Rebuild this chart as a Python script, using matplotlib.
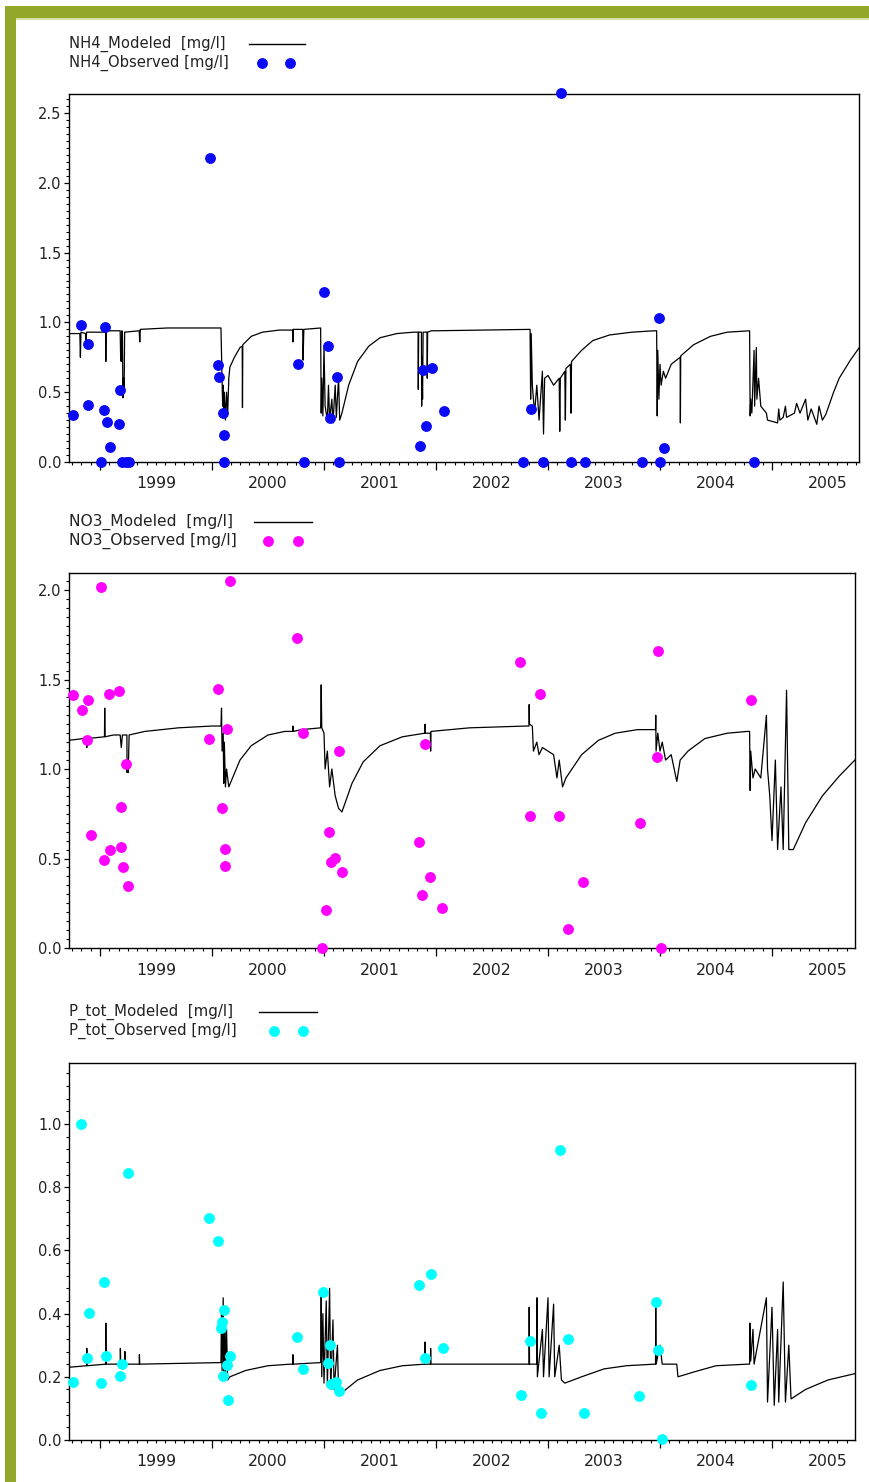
import numpy as np
import matplotlib.pyplot as plt
from matplotlib.lines import Line2D
from matplotlib.patches import Rectangle
from matplotlib.ticker import MultipleLocator, FixedLocator, FormatStrFormatter, NullFormatter

W, H = 870, 1482

# ---- data (decimal years, mg/l) ----
years = [1999, 2000, 2001, 2002, 2003, 2004, 2005]

nh4_obs_t = [1998.759, 1998.830, 1998.893, 1998.893, 1999.009, 1999.036, 1999.045, 1999.063, 1999.089,
             1999.170, 1999.179, 1999.196, 1999.232, 1999.259, 1999.982, 2000.054, 2000.063, 2000.098,
             2000.107, 2000.107, 2000.768, 2000.821, 2001.000, 2001.036, 2001.054, 2001.116, 2001.134,
             2001.857, 2001.884, 2001.911, 2001.964, 2002.071, 2002.777, 2002.848, 2002.955, 2003.116,
             2003.205, 2003.330, 2003.839, 2003.991, 2004.000, 2004.036, 2004.839]
nh4_obs_v = [0.337, 0.981, 0.845, 0.408, 0.0, 0.372, 0.967, 0.287, 0.107,
             0.272, 0.516, 0.0, 0.0, 0.0, 2.178, 0.695, 0.609, 0.351,
             0.193, 0.0, 0.702, 0.0, 1.218, 0.831, 0.315, 0.609, 0.0,
             0.115, 0.659, 0.258, 0.673, 0.365, 0.0, 0.380, 0.0, 2.643,
             0.0, 0.0, 0.0, 1.032, 0.0, 0.100, 0.0]

nh4_mod_t = [1998.72, 1998.82, 1998.825, 1998.83, 1998.87, 1998.875, 1998.88, 1999.05, 1999.052, 1999.055,
             1999.18, 1999.185, 1999.19, 1999.195, 1999.20, 1999.205, 1999.21, 1999.215, 1999.22, 1999.35,
             1999.355, 1999.36, 1999.6, 2000.0, 2000.08, 2000.09, 2000.095, 2000.10, 2000.105, 2000.11,
             2000.12, 2000.13, 2000.14, 2000.15, 2000.16, 2000.20, 2000.25, 2000.27, 2000.272, 2000.275,
             2000.35, 2000.45, 2000.6, 2000.72, 2000.722, 2000.725, 2000.80, 2000.81, 2000.813, 2000.82,
             2000.97, 2000.975, 2000.98, 2000.99, 2001.0, 2001.01, 2001.03, 2001.04, 2001.05, 2001.07,
             2001.08, 2001.10, 2001.11, 2001.13, 2001.14, 2001.16, 2001.22, 2001.30, 2001.40, 2001.50,
             2001.65, 2001.80, 2001.84, 2001.842, 2001.845, 2001.87, 2001.872, 2001.875, 2001.88, 2001.885,
             2001.92, 2001.922, 2001.925, 2001.96, 2002.0, 2002.80, 2002.84, 2002.845, 2002.85, 2002.86,
             2002.88, 2002.90, 2002.92, 2002.95, 2002.96, 2002.97, 2003.0, 2003.05, 2003.10, 2003.105,
             2003.11, 2003.15, 2003.155, 2003.16, 2003.20, 2003.205, 2003.21, 2003.30, 2003.40, 2003.55,
             2003.75, 2003.95, 2003.97, 2003.975, 2003.98, 2003.99, 2004.0, 2004.01, 2004.03, 2004.05,
             2004.10, 2004.18, 2004.182, 2004.185, 2004.30, 2004.45, 2004.60, 2004.80, 2004.805, 2004.81,
             2004.82, 2004.84, 2004.845, 2004.86, 2004.865, 2004.88, 2004.90, 2004.95, 2004.96, 2005.05,
             2005.06, 2005.07, 2005.10, 2005.12, 2005.13, 2005.20, 2005.22, 2005.25, 2005.30, 2005.32,
             2005.35, 2005.40, 2005.42, 2005.45, 2005.48, 2005.55, 2005.60, 2005.70, 2005.78]
nh4_mod_v = [0.92, 0.92, 0.75, 0.93, 0.92, 0.85, 0.93, 0.93, 0.72, 0.94,
             0.94, 0.73, 0.72, 0.94, 0.93, 0.46, 0.60, 0.50, 0.93, 0.94,
             0.86, 0.95, 0.96, 0.96, 0.96, 0.60, 0.40, 0.55, 0.32, 0.50,
             0.30, 0.50, 0.35, 0.60, 0.68, 0.75, 0.82, 0.83, 0.39, 0.84,
             0.90, 0.93, 0.945, 0.945, 0.86, 0.95, 0.95, 0.95, 0.73, 0.95,
             0.96, 0.35, 0.60, 0.33, 0.83, 0.40, 0.30, 0.55, 0.30, 0.45,
             0.28, 0.55, 0.32, 0.60, 0.30, 0.35, 0.55, 0.72, 0.83, 0.89,
             0.92, 0.93, 0.93, 0.52, 0.93, 0.93, 0.40, 0.75, 0.45, 0.93,
             0.93, 0.60, 0.93, 0.94, 0.94, 0.95, 0.95, 0.45, 0.92, 0.55,
             0.35, 0.55, 0.30, 0.65, 0.20, 0.60, 0.62, 0.55, 0.60, 0.22,
             0.60, 0.65, 0.30, 0.67, 0.70, 0.35, 0.72, 0.80, 0.87, 0.91,
             0.93, 0.94, 0.94, 0.33, 0.80, 0.45, 0.70, 0.55, 0.65, 0.60,
             0.70, 0.75, 0.28, 0.76, 0.84, 0.90, 0.93, 0.94, 0.33, 0.45,
             0.35, 0.80, 0.40, 0.82, 0.45, 0.60, 0.40, 0.35, 0.30, 0.28,
             0.38, 0.30, 0.32, 0.40, 0.32, 0.35, 0.42, 0.35, 0.45, 0.30,
             0.38, 0.27, 0.40, 0.30, 0.34, 0.50, 0.60, 0.73, 0.82]

no3_obs_t = [1998.759, 1998.839, 1998.884, 1998.893, 1998.920, 1999.009, 1999.036, 1999.080, 1999.089,
             1999.170, 1999.188, 1999.188, 1999.205, 1999.232, 1999.250, 1999.973, 2000.054, 2000.089,
             2000.116, 2000.116, 2000.134, 2000.161, 2000.759, 2000.813, 2000.982, 2001.018, 2001.045,
             2001.063, 2001.098, 2001.134, 2001.161, 2001.848, 2001.875, 2001.902, 2001.946, 2002.054,
             2002.750, 2002.839, 2002.929, 2003.098, 2003.179, 2003.313, 2003.821, 2003.973, 2003.982,
             2004.009, 2004.813]
no3_obs_v = [1.413, 1.330, 1.162, 1.385, 0.631, 2.017, 0.492, 1.419, 0.547,
             1.436, 0.788, 0.564, 0.453, 1.028, 0.346, 1.168, 1.447, 0.782,
             0.553, 0.458, 1.223, 2.050, 1.732, 1.201, 0.0, 0.212, 0.648,
             0.480, 0.503, 1.101, 0.425, 0.592, 0.296, 1.140, 0.397, 0.223,
             1.598, 0.737, 1.419, 0.737, 0.106, 0.369, 0.698, 1.067, 1.659,
             0.0, 1.385]

no3_mod_t = [1998.72, 1998.85, 1998.88, 1998.882, 1998.885, 1999.04, 1999.042, 1999.045, 1999.12, 1999.18,
             1999.19, 1999.20, 1999.24, 1999.242, 1999.25, 1999.252, 1999.26, 1999.40, 1999.70, 2000.0,
             2000.08, 2000.085, 2000.09, 2000.10, 2000.105, 2000.11, 2000.12, 2000.13, 2000.15, 2000.25,
             2000.35, 2000.50, 2000.65, 2000.72, 2000.722, 2000.725, 2000.80, 2000.97, 2000.975, 2000.98,
             2001.0, 2001.01, 2001.03, 2001.05, 2001.07, 2001.10, 2001.13, 2001.16, 2001.25, 2001.35,
             2001.50, 2001.70, 2001.90, 2001.902, 2001.905, 2001.95, 2001.952, 2001.955, 2002.30, 2002.80,
             2002.83, 2002.832, 2002.835, 2002.86, 2002.87, 2002.90, 2002.92, 2002.95, 2003.0, 2003.05,
             2003.08, 2003.10, 2003.13, 2003.16, 2003.30, 2003.45, 2003.60, 2003.80, 2003.96, 2003.962,
             2003.965, 2003.98, 2004.0, 2004.02, 2004.05, 2004.10, 2004.15, 2004.18, 2004.25, 2004.40,
             2004.60, 2004.78, 2004.80, 2004.805, 2004.81, 2004.83, 2004.85, 2004.90, 2004.95, 2004.96,
             2004.98, 2005.0, 2005.03, 2005.05, 2005.08, 2005.10, 2005.13, 2005.15, 2005.19, 2005.30,
             2005.45, 2005.60, 2005.74]
no3_mod_v = [1.16, 1.17, 1.17, 1.12, 1.17, 1.18, 1.34, 1.18, 1.19, 1.19,
             1.12, 1.19, 1.19, 0.98, 1.05, 0.98, 1.19, 1.21, 1.23, 1.24,
             1.24, 1.34, 1.10, 1.20, 0.92, 1.15, 0.90, 1.00, 0.90, 1.05,
             1.13, 1.19, 1.21, 1.21, 1.24, 1.21, 1.22, 1.23, 1.47, 1.23,
             1.20, 1.00, 1.10, 0.90, 1.00, 0.85, 0.78, 0.76, 0.92, 1.04,
             1.13, 1.18, 1.20, 1.25, 1.20, 1.20, 1.10, 1.21, 1.23, 1.24,
             1.24, 1.36, 1.25, 1.24, 1.10, 1.15, 1.08, 1.12, 1.10, 1.08,
             0.95, 1.05, 0.90, 0.95, 1.08, 1.16, 1.20, 1.22, 1.22, 1.30,
             1.10, 1.20, 1.10, 1.15, 1.05, 1.08, 0.93, 1.05, 1.10, 1.17,
             1.20, 1.21, 1.21, 0.88, 1.10, 0.95, 1.00, 0.95, 1.30, 1.00,
             0.85, 0.60, 1.05, 0.55, 0.90, 0.55, 1.44, 0.55, 0.55, 0.70,
             0.85, 0.96, 1.05]

ptot_obs_t = [1998.759, 1998.830, 1998.884, 1998.902, 1999.009, 1999.036, 1999.054, 1999.179, 1999.196,
              1999.250, 1999.973, 2000.054, 2000.080, 2000.089, 2000.107, 2000.098, 2000.134, 2000.143,
              2000.161, 2000.759, 2000.813, 2000.991, 2001.036, 2001.054, 2001.063, 2001.107, 2001.134,
              2001.848, 2001.902, 2001.955, 2002.063, 2002.759, 2002.839, 2002.938, 2003.107, 2003.179,
              2003.321, 2003.813, 2003.964, 2003.982, 2004.018, 2004.813]
ptot_obs_v = [0.184, 1.000, 0.259, 0.402, 0.180, 0.500, 0.266, 0.203, 0.241,
              0.845, 0.703, 0.630, 0.354, 0.373, 0.411, 0.203, 0.237, 0.127,
              0.266, 0.326, 0.225, 0.468, 0.244, 0.301, 0.177, 0.184, 0.155,
              0.491, 0.259, 0.525, 0.291, 0.142, 0.313, 0.085, 0.918, 0.320,
              0.085, 0.139, 0.437, 0.285, 0.002, 0.174]

ptot_mod_t = [1998.72, 1998.88, 1998.882, 1998.885, 1999.05, 1999.052, 1999.055, 1999.18, 1999.182, 1999.185,
              1999.22, 1999.222, 1999.225, 1999.35, 1999.352, 1999.355, 2000.08, 2000.085, 2000.09, 2000.10,
              2000.105, 2000.115, 2000.12, 2000.13, 2000.14, 2000.16, 2000.30, 2000.50, 2000.70, 2000.72,
              2000.722, 2000.725, 2000.97, 2000.975, 2000.98, 2000.99, 2001.0, 2001.02, 2001.03, 2001.05,
              2001.06, 2001.08, 2001.09, 2001.12, 2001.13, 2001.16, 2001.30, 2001.50, 2001.70, 2001.90,
              2001.902, 2001.905, 2001.95, 2001.952, 2001.955, 2002.80, 2002.83, 2002.832, 2002.835, 2002.90,
              2002.902, 2002.905, 2002.95, 2002.96, 2003.0, 2003.01, 2003.05, 2003.06, 2003.10, 2003.12,
              2003.15, 2003.30, 2003.50, 2003.70, 2003.95, 2003.96, 2003.962, 2003.965, 2004.0, 2004.02,
              2004.15, 2004.16, 2004.30, 2004.50, 2004.78, 2004.80, 2004.802, 2004.81, 2004.83, 2004.84,
              2004.95, 2004.96, 2005.0, 2005.02, 2005.05, 2005.06, 2005.10, 2005.12, 2005.15, 2005.17,
              2005.30, 2005.50, 2005.74]
ptot_mod_v = [0.23, 0.235, 0.29, 0.235, 0.24, 0.37, 0.24, 0.24, 0.29, 0.24,
              0.24, 0.28, 0.24, 0.24, 0.27, 0.24, 0.245, 0.42, 0.22, 0.45,
              0.20, 0.38, 0.20, 0.35, 0.19, 0.20, 0.22, 0.235, 0.24, 0.24,
              0.27, 0.24, 0.245, 0.47, 0.20, 0.40, 0.18, 0.44, 0.17, 0.48,
              0.16, 0.38, 0.16, 0.30, 0.15, 0.15, 0.19, 0.22, 0.235, 0.24,
              0.31, 0.24, 0.24, 0.29, 0.24, 0.24, 0.24, 0.42, 0.24, 0.24,
              0.45, 0.20, 0.35, 0.20, 0.45, 0.20, 0.43, 0.20, 0.30, 0.19,
              0.18, 0.20, 0.225, 0.235, 0.24, 0.24, 0.42, 0.24, 0.30, 0.24,
              0.24, 0.20, 0.215, 0.235, 0.24, 0.24, 0.37, 0.25, 0.35, 0.24,
              0.45, 0.12, 0.42, 0.11, 0.35, 0.12, 0.50, 0.12, 0.30, 0.13,
              0.16, 0.19, 0.21]

# ---- layout helpers (pixel -> figure fraction) ----
def fx(x):
    return x / W

def fy(y):
    return 1 - y / H

fig = plt.figure(figsize=(W / 100, H / 100), dpi=100)
fig.patch.set_facecolor('white')

# olive frame
green = '#93a82a'
fig.patches.append(Rectangle((fx(5), fy(18)), 1 - fx(5), fy(6) - fy(18), transform=fig.transFigure,
                             color=green, lw=0, zorder=0))
fig.patches.append(Rectangle((fx(16), fy(20)), 1 - fx(16), fy(18) - fy(20), transform=fig.transFigure,
                             color='#d6e0a6', lw=0, zorder=0))
fig.patches.append(Rectangle((fx(5), 0), fx(16) - fx(5), fy(6), transform=fig.transFigure,
                             color=green, lw=0, zorder=0))

panels = [
    dict(box=(69, 94, 859, 462), ylim=2.636, major=0.5, minor=0.05,
         mt=nh4_mod_t, mv=nh4_mod_v, ot=nh4_obs_t, ov=nh4_obs_v, color='#0a0af5',
         names=('NH4_Modeled  [mg/l]', 'NH4_Observed [mg/l]'), leg=(44, 63, 249, 305, 262, 290), fs=10.6),
    dict(box=(69, 573, 855, 948), ylim=2.095, major=0.5, minor=0.05,
         mt=no3_mod_t, mv=no3_mod_v, ot=no3_obs_t, ov=no3_obs_v, color='#ff00ff',
         names=('NO3_Modeled  [mg/l]', 'NO3_Observed [mg/l]'), leg=(522, 541, 254, 312, 268, 298), fs=11.2),
    dict(box=(69, 1063, 855, 1440), ylim=1.193, major=0.2, minor=0.04,
         mt=ptot_mod_t, mv=ptot_mod_v, ot=ptot_obs_t, ov=ptot_obs_v, color='#00ffff',
         names=('P_tot_Modeled  [mg/l]', 'P_tot_Observed [mg/l]'), leg=(1012, 1031, 259, 317, 274, 303), fs=10.8),
]

x0 = 1999 + (69 - 100) / 112
months = np.arange(1998 + 9 / 12, 2005.8, 1 / 12)

for p in panels:
    l, t, r, b = p['box']
    ax = fig.add_axes([fx(l), fy(b), fx(r) - fx(l), fy(t) - fy(b)])
    x1 = 1999 + (r - 100) / 112
    ax.plot(p['mt'], p['mv'], color='black', lw=0.9, zorder=2)
    ax.plot(p['ot'], p['ov'], ls='none', marker='o', ms=6.8, color=p['color'], mec=p['color'],
            clip_on=False, zorder=3)
    ax.set_xlim(x0, x1)
    ax.set_ylim(0, p['ylim'])

    ax.yaxis.set_major_locator(MultipleLocator(p['major']))
    ax.yaxis.set_minor_locator(MultipleLocator(p['minor']))
    ax.yaxis.set_major_formatter(FormatStrFormatter('%.1f'))
    ax.xaxis.set_major_locator(FixedLocator(years))
    ax.xaxis.set_major_formatter(NullFormatter())
    ax.xaxis.set_minor_locator(FixedLocator([m for m in months if x0 < m < x1]))
    ax.tick_params(axis='y', which='major', direction='out', length=3.5, width=0.9, labelsize=10.5,
                   pad=2, labelcolor='#222222')
    ax.tick_params(axis='y', which='minor', direction='out', length=2.5, width=0.8)
    ax.tick_params(axis='x', which='major', direction='out', length=6, width=0.9)
    ax.tick_params(axis='x', which='minor', direction='out', length=2.5, width=0.8)
    for sp in ax.spines.values():
        sp.set_linewidth(1.0)

    for yr in years:
        ax.annotate(str(yr), xy=(yr + 0.5, 0), xycoords=('data', 'axes fraction'),
                    xytext=(0, -22), textcoords='offset pixels', ha='center', va='center',
                    fontsize=11.3, color='#222222')

    # legend drawn by hand, same placement as the picture
    y1, y2, lx0, lx1, m1, m2 = p['leg']
    fig.text(fx(69), fy(y1), p['names'][0], fontsize=p['fs'], va='center', ha='left', color='#222222')
    fig.text(fx(69), fy(y2), p['names'][1], fontsize=p['fs'], va='center', ha='left', color='#222222')
    fig.lines.append(Line2D([fx(lx0), fx(lx1)], [fy(y1), fy(y1)], transform=fig.transFigure,
                            color='black', lw=1.0))
    fig.lines.append(Line2D([fx(m1), fx(m2)], [fy(y2), fy(y2)], transform=fig.transFigure,
                            ls='none', marker='o', ms=6.8, color=p['color']))

fig.savefig('out.png', dpi=100)
